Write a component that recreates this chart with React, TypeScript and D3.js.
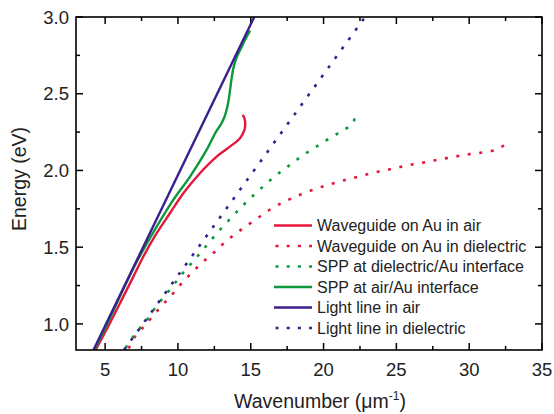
import React, { useEffect, useRef } from 'react';
import * as d3 from 'd3';

// wavenumber (um^-1), energy (eV)
const wgAirK = [4.35, 5.3, 6.25, 6.95, 7.62, 8.54, 9.45, 10.37, 11.51, 12.66, 13.57, 14.26, 14.55, 14.62, 14.58, 14.45];
const wgAirE = [0.83, 1.0, 1.178, 1.31, 1.438, 1.591, 1.721, 1.851, 1.982, 2.09, 2.155, 2.21, 2.26, 2.3, 2.335, 2.362];

const wgDielK = [6.62, 7.1, 7.72, 8.36, 9.0, 9.68, 10.35, 11.06, 11.79, 12.55, 13.28, 14.06, 14.88, 15.68, 16.4, 17.17, 17.93, 18.73, 19.53, 20.28, 21.06, 21.8, 22.6, 23.4, 24.15, 24.93, 25.7, 26.49, 27.26, 28.0, 28.8, 29.57, 30.33, 31.13, 31.9, 32.46];
const wgDielE = [0.84, 0.924, 0.989, 1.06, 1.13, 1.2, 1.275, 1.344, 1.41, 1.472, 1.537, 1.595, 1.65, 1.703, 1.75, 1.79, 1.823, 1.855, 1.883, 1.905, 1.927, 1.946, 1.965, 1.985, 2.0, 2.015, 2.032, 2.045, 2.058, 2.073, 2.086, 2.1, 2.11, 2.12, 2.136, 2.17];

const sppDielK = [6.41, 6.87, 7.44, 8.06, 8.54, 9.16, 9.78, 10.42, 11.06, 11.72, 12.36, 13.0, 13.74, 14.42, 15.1, 15.9, 16.67, 17.47, 18.25, 19.0, 19.76, 20.53, 21.3, 22.05, 22.09];
const sppDielE = [0.844, 0.909, 0.978, 1.05, 1.119, 1.19, 1.264, 1.34, 1.409, 1.483, 1.556, 1.625, 1.7, 1.768, 1.83, 1.9, 1.963, 2.02, 2.076, 2.125, 2.17, 2.216, 2.26, 2.31, 2.38];

const sppAirK = [4.25, 5.15, 6.12, 7.15, 7.62, 8.54, 9.68, 10.83, 11.97, 12.6, 12.95, 13.2, 13.38, 13.5, 13.6, 13.7, 13.84, 14.05, 14.3, 14.6, 14.95];
const sppAirE = [0.83, 1.0, 1.2, 1.4, 1.482, 1.634, 1.808, 1.96, 2.134, 2.25, 2.3, 2.35, 2.41, 2.47, 2.54, 2.61, 2.68, 2.74, 2.79, 2.85, 2.911];

const lightAirK = [4.2, 15.24];
const lightAirE = [0.83, 3.0];

const lightDielK = [6.3, 22.85];
const lightDielE = [0.83, 3.0];

const xTicks = [5, 10, 15, 20, 25, 30, 35];
const yTicks = [1.0, 1.5, 2.0, 2.5, 3.0];

const RED = '#e5173d';
const GREEN = '#0c983c';
const PURPLE = '#3b1f8e';

const series = [
    { name: 'Waveguide on Au in air', k: wgAirK, e: wgAirE, color: RED, dotted: false },
    { name: 'Waveguide on Au in dielectric', k: wgDielK, e: wgDielE, color: RED, dotted: true },
    { name: 'SPP at dielectric/Au interface', k: sppDielK, e: sppDielE, color: GREEN, dotted: true },
    { name: 'SPP at air/Au interface', k: sppAirK, e: sppAirE, color: GREEN, dotted: false },
    { name: 'Light line in air', k: lightAirK, e: lightAirE, color: PURPLE, dotted: false },
    { name: 'Light line in dielectric', k: lightDielK, e: lightDielE, color: PURPLE, dotted: true },
];

const App = () => {
    const ref = useRef<SVGSVGElement>(null);

    useEffect(() => {
        const svg = d3.select(ref.current);
        svg.selectAll('*').remove();
        const left = 76, right = 542, top = 17, bottom = 350;
        const font = "'Liberation Sans', Arial, sans-serif";

        const x = d3.scaleLinear().domain([3, 35]).range([left, right]);
        const y = d3.scaleLinear().domain([0.83, 3.0]).range([bottom, top]);

        svg.append('clipPath').attr('id', 'plot')
            .append('rect')
            .attr('x', left).attr('y', top)
            .attr('width', right - left).attr('height', bottom - top);

        const minorX = d3.range(5, 35, 2.5).filter(v => v % 5 !== 0);
        const minorY = d3.range(1.25, 3.0, 0.5);

        // axes with inward ticks, major and minor
        const addX = (pos: number, dir: number) => {
            const g = svg.append('g').attr('stroke', '#000').attr('stroke-width', 1.5);
            xTicks.forEach(t => g.append('line')
                .attr('x1', x(t)).attr('x2', x(t))
                .attr('y1', pos).attr('y2', pos + dir * 7));
            minorX.forEach(t => g.append('line')
                .attr('x1', x(t)).attr('x2', x(t))
                .attr('y1', pos).attr('y2', pos + dir * 4));
        };
        const addY = (pos: number, dir: number) => {
            const g = svg.append('g').attr('stroke', '#000').attr('stroke-width', 1.5);
            yTicks.forEach(t => g.append('line')
                .attr('y1', y(t)).attr('y2', y(t))
                .attr('x1', pos).attr('x2', pos + dir * 7));
            minorY.forEach(t => g.append('line')
                .attr('y1', y(t)).attr('y2', y(t))
                .attr('x1', pos).attr('x2', pos + dir * 4));
        };
        addX(bottom, -1);
        addX(top, 1);
        addY(left, 1);
        addY(right, -1);

        const line = d3.line<[number, number]>()
            .x(d => x(d[0]))
            .y(d => y(d[1]))
            .curve(d3.curveCatmullRom.alpha(0.5));

        const plot = svg.append('g').attr('clip-path', 'url(#plot)');
        series.forEach(s => {
            const pts = s.k.map((k, i) => [k, s.e[i]] as [number, number]);
            plot.append('path')
                .attr('d', line(pts))
                .attr('fill', 'none')
                .attr('stroke', s.color)
                .attr('stroke-width', s.dotted ? 2.6 : 2.4)
                .attr('stroke-dasharray', s.dotted ? '3 8.6' : null);
        });

        svg.append('rect')
            .attr('x', left).attr('y', top)
            .attr('width', right - left).attr('height', bottom - top)
            .attr('fill', 'none').attr('stroke', '#000').attr('stroke-width', 1.6);

        svg.append('g')
            .selectAll('text')
            .data(xTicks)
            .join('text')
            .attr('x', d => x(d))
            .attr('y', 376)
            .attr('text-anchor', 'middle')
            .attr('font-family', font)
            .attr('font-size', 18.5)
            .attr('fill', '#222')
            .text(d => d);

        svg.append('g')
            .selectAll('text')
            .data(yTicks)
            .join('text')
            .attr('x', left - 7)
            .attr('y', d => y(d) + 6.6)
            .attr('text-anchor', 'end')
            .attr('font-family', font)
            .attr('font-size', 18.5)
            .attr('fill', '#222')
            .text(d => d.toFixed(1));

        const xt = svg.append('text')
            .attr('x', 320).attr('y', 408)
            .attr('text-anchor', 'middle')
            .attr('font-family', font)
            .attr('font-size', 19.5)
            .attr('fill', '#222');
        xt.append('tspan').text('Wavenumber (\u03bcm');
        xt.append('tspan').attr('font-size', 12).attr('dy', -8).text('-1');
        xt.append('tspan').attr('dy', 8).text(')');

        svg.append('text')
            .attr('transform', 'translate(26,179) rotate(-90)')
            .attr('text-anchor', 'middle')
            .attr('font-family', font)
            .attr('font-size', 19.5)
            .attr('fill', '#222')
            .text('Energy (eV)');

        const legend = svg.append('g');
        series.forEach((s, i) => {
            const ly = 225.5 + i * 20.5;
            legend.append('line')
                .attr('x1', s.dotted ? 275.5 : 274).attr('x2', 312)
                .attr('y1', ly).attr('y2', ly)
                .attr('stroke', s.color)
                .attr('stroke-width', s.dotted ? 2.6 : 2.4)
                .attr('stroke-dasharray', s.dotted ? '3 8.2' : null);
            legend.append('text')
                .attr('x', 317).attr('y', ly + 5.8)
                .attr('font-family', font)
                .attr('font-size', 16)
                .attr('fill', '#222')
                .text(s.name);
        });
    }, []);

    return (
        <svg ref={ref} width={554} height={414}
            style={{ position: 'absolute', left: 0, top: 0, background: '#fff' }} />
    );
};

export default App;
